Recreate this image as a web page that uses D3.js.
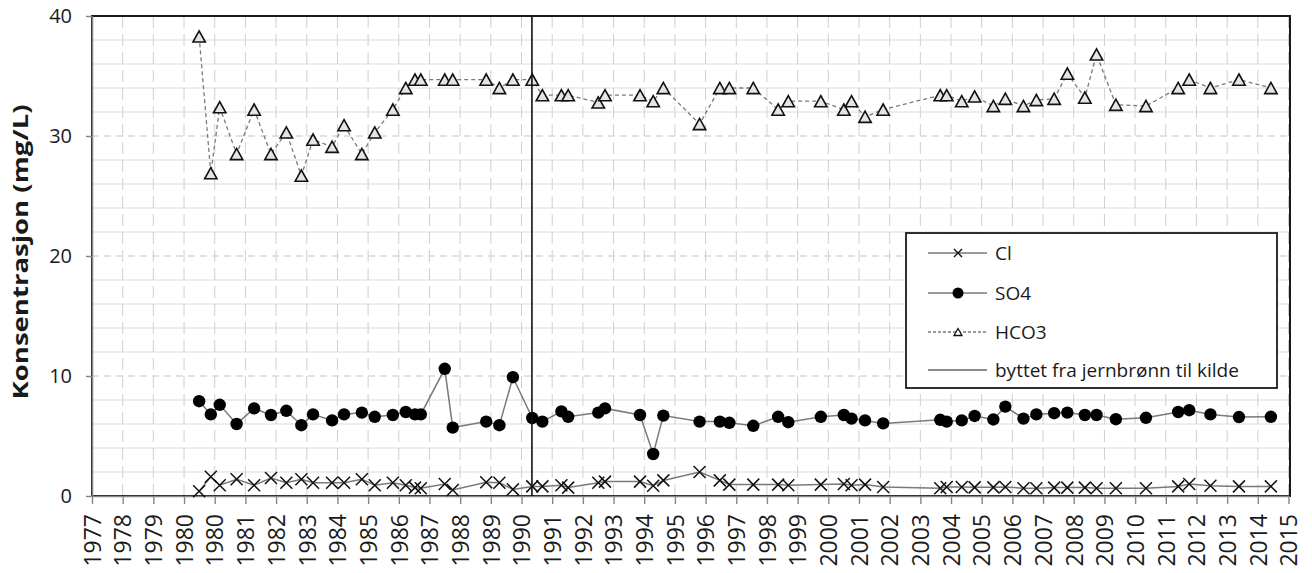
<!DOCTYPE html>
<html lang="no">
<head>
  <meta charset="UTF-8">
  <title>Konsentrasjon Cl, SO4, HCO3</title>
  <script src="https://d3js.org/d3.v7.min.js"></script>
  <style>
    body { margin: 0; background: #fff; font-family: "Open Sans", sans-serif; }
    svg { display: block; }
    .tick text { fill: #1a1a1a; }
  </style>
</head>
<body>
  <svg id="chart" width="1312" height="573"></svg>

  <script>
    // axis labels as they stand on the chart (365-day steps, so 1980 shows twice)
    const yearLabels = ["1977", "1978", "1979", "1980", "1980", "1981", "1982", "1983", "1984", "1985",
      "1986", "1987", "1988", "1989", "1990", "1991", "1992", "1993", "1994", "1995",
      "1996", "1997", "1998", "1999", "2000", "2001", "2002", "2003", "2004", "2005",
      "2006", "2007", "2008", "2009", "2010", "2011", "2012", "2013", "2014", "2015"];

    // sampling dates, decimal years
    const sampleDates = [1980.49, 1980.87, 1981.16, 1981.71, 1982.28, 1982.83, 1983.33, 1983.82, 1984.20, 1984.82,
      1985.21, 1985.79, 1986.21, 1986.80, 1987.22, 1987.52, 1987.71, 1988.49, 1988.75, 1989.84,
      1990.27, 1990.71, 1991.34, 1991.67, 1992.29, 1992.51, 1993.49, 1993.71, 1994.85, 1995.28,
      1995.61, 1996.79, 1997.45, 1997.76, 1998.54, 1999.35, 1999.68, 2000.74, 2001.49, 2001.74,
      2002.18, 2002.77, 2004.63, 2004.84, 2005.33, 2005.75, 2006.36, 2006.75, 2007.34, 2007.76,
      2008.34, 2008.77, 2009.34, 2009.72, 2010.35, 2011.33, 2012.38, 2012.74, 2013.43, 2014.36,
      2015.40];

    const cl = [0.4, 1.6, 0.9, 1.4, 0.9, 1.5, 1.1, 1.4, 1.1, 1.1,
      1.1, 1.4, 0.9, 1.1, 0.9, 0.7, 0.65, 1.0, 0.5, 1.15,
      1.1, 0.55, 0.8, 0.8, 0.9, 0.7, 1.1, 1.2, 1.2, 0.85,
      1.3, 2.0, 1.3, 0.95, 0.95, 0.95, 0.9, 0.95, 1.0, 0.9,
      0.95, 0.75, 0.65, 0.75, 0.75, 0.72, 0.72, 0.75, 0.65, 0.65,
      0.7, 0.7, 0.7, 0.65, 0.65, 0.65, 0.8, 1.0, 0.85, 0.8,
      0.8];

    const so4 = [7.9, 6.8, 7.6, 6.0, 7.3, 6.75, 7.1, 5.9, 6.8, 6.3,
      6.8, 6.95, 6.6, 6.75, 7.0, 6.8, 6.8, 10.6, 5.7, 6.2,
      5.9, 9.9, 6.5, 6.2, 7.05, 6.6, 6.95, 7.3, 6.75, 3.5,
      6.7, 6.2, 6.2, 6.1, 5.85, 6.6, 6.15, 6.6, 6.75, 6.45,
      6.3, 6.05, 6.35, 6.2, 6.3, 6.67, 6.38, 7.45, 6.45, 6.8,
      6.9, 6.95, 6.75, 6.75, 6.4, 6.52, 7.0, 7.15, 6.8, 6.58,
      6.6];

    const hco3 = [38.3, 26.9, 32.4, 28.5, 32.2, 28.5, 30.3, 26.7, 29.7, 29.1,
      30.9, 28.5, 30.3, 32.2, 34.0, 34.7, 34.7, 34.7, 34.7, 34.7,
      34.0, 34.7, 34.7, 33.4, 33.4, 33.4, 32.8, 33.4, 33.4, 32.9,
      34.0, 31.0, 34.0, 34.0, 34.0, 32.2, 32.9, 32.9, 32.2, 32.9,
      31.6, 32.2, 33.4, 33.4, 32.9, 33.3, 32.5, 33.1, 32.5, 33.0,
      33.1, 35.2, 33.2, 36.8, 32.6, 32.5, 34.0, 34.7, 34.0, 34.7,
      34.0];

    // date of the switch from iron well to spring
    const changeDate = [1991.33];

    const yTicks = [0, 10, 20, 30, 40];
    const legendLabels = ["Cl", "SO4", "HCO3", "byttet fra jernbrønn til kilde"];

    const svg = d3.select("#chart");
    const plotLeft = 92, plotRight = 1290, plotTop = 16, plotBottom = 496;

    const tickVals = yearLabels.map((d, i) => 1977 + i * 365 / 365.25);

    const x = d3.scaleLinear()
      .domain([tickVals[0], tickVals[tickVals.length - 1]])
      .range([plotLeft, 1288.5]);
    const y = d3.scaleLinear().domain([0, 40]).range([plotBottom, plotTop]);

    // grid
    const grid = svg.append("g");
    grid.selectAll(".hminor")
      .data(d3.range(2, 40, 2).filter(v => v % 10 !== 0))
      .enter().append("line")
      .attr("x1", plotLeft).attr("x2", plotRight)
      .attr("y1", d => y(d)).attr("y2", d => y(d))
      .attr("stroke", "#dcdcdc").attr("stroke-width", 1);
    grid.selectAll(".hmajor")
      .data([10, 20, 30])
      .enter().append("line")
      .attr("x1", plotLeft).attr("x2", plotRight)
      .attr("y1", d => y(d)).attr("y2", d => y(d))
      .attr("stroke", "#c4c4c4").attr("stroke-width", 1.2)
      .attr("stroke-dasharray", "7,5");
    grid.selectAll(".vgrid")
      .data(tickVals.slice(1))
      .enter().append("line")
      .attr("x1", d => x(d)).attr("x2", d => x(d))
      .attr("y1", plotTop).attr("y2", plotBottom)
      .attr("stroke", "#cfcfcf").attr("stroke-width", 1)
      .attr("stroke-dasharray", "12,6");

    // plot area border (dark top / right)
    svg.append("rect")
      .attr("x", plotLeft).attr("y", plotTop)
      .attr("width", plotRight - plotLeft).attr("height", plotBottom - plotTop)
      .attr("fill", "none").attr("stroke", "#1a1a1a").attr("stroke-width", 2);

    // axes
    const xAxis = svg.append("g")
      .attr("transform", `translate(0,${plotBottom})`)
      .call(d3.axisBottom(x).tickValues(tickVals)
        .tickFormat((d, i) => yearLabels[i]).tickSize(8).tickSizeOuter(0));
    xAxis.select(".domain").attr("stroke", "#868686").attr("stroke-width", 1.6);
    xAxis.selectAll(".tick line").attr("stroke", "#868686").attr("stroke-width", 1.4);
    xAxis.selectAll(".tick text")
      .attr("transform", "rotate(-90)")
      .attr("text-anchor", "end")
      .attr("x", -18).attr("y", 0).attr("dy", "0.36em")
      .style("font-family", "'Open Sans', sans-serif")
      .style("font-size", "23px");

    const yAxis = svg.append("g")
      .attr("transform", `translate(${plotLeft},0)`)
      .call(d3.axisLeft(y).tickValues(yTicks).tickSize(6).tickSizeOuter(0).tickPadding(14));
    yAxis.select(".domain").attr("stroke", "#868686").attr("stroke-width", 1.6);
    yAxis.selectAll(".tick line").attr("stroke", "#868686").attr("stroke-width", 1.4);
    yAxis.selectAll(".tick text")
      .style("font-family", "'Open Sans', sans-serif")
      .style("font-size", "20px");

    // y title
    svg.append("text")
      .attr("transform", `translate(28,252) rotate(-90)`)
      .attr("text-anchor", "middle")
      .attr("textLength", 295)
      .attr("lengthAdjust", "spacingAndGlyphs")
      .style("font-family", "'Open Sans', sans-serif")
      .style("font-size", "21px")
      .style("font-weight", "bold")
      .style("fill", "#1a1a1a")
      .text("Konsentrasjon (mg/L)");

    // markers
    const crossPath = s => `M${-s},${-s}L${s},${s}M${-s},${s}L${s},${-s}`;
    const triPath = (w, h) => `M0,${-h}L${w},${h}L${-w},${h}Z`;

    const rows = sampleDates.map((d, i) => ({ date: d, cl: cl[i], so4: so4[i], hco3: hco3[i] }));
    const line = key => d3.line().x(d => x(d.date)).y(d => y(d[key]));

    // Cl
    svg.append("path").datum(rows)
      .attr("d", line("cl"))
      .attr("fill", "none").attr("stroke", "#7a7a7a").attr("stroke-width", 1.5);
    svg.selectAll(".cl").data(rows).enter().append("path")
      .attr("transform", d => `translate(${x(d.date)},${y(d.cl)})`)
      .attr("d", crossPath(6))
      .attr("stroke", "#111").attr("stroke-width", 1.5).attr("fill", "none");

    // SO4
    svg.append("path").datum(rows)
      .attr("d", line("so4"))
      .attr("fill", "none").attr("stroke", "#7a7a7a").attr("stroke-width", 1.5);
    svg.selectAll(".so4").data(rows).enter().append("circle")
      .attr("cx", d => x(d.date)).attr("cy", d => y(d.so4))
      .attr("r", 6.2).attr("fill", "#000");

    // HCO3
    svg.append("path").datum(rows)
      .attr("d", line("hco3"))
      .attr("fill", "none").attr("stroke", "#7a7a7a").attr("stroke-width", 1.3)
      .attr("stroke-dasharray", "4,3");
    svg.selectAll(".hco3").data(rows).enter().append("path")
      .attr("transform", d => `translate(${x(d.date)},${y(d.hco3)})`)
      .attr("d", triPath(6.2, 5.6))
      .attr("stroke", "#111").attr("stroke-width", 1.6).attr("fill", "#e4e4e4");

    // switch line
    svg.selectAll(".change").data(changeDate).enter().append("line")
      .attr("x1", d => x(d)).attr("x2", d => x(d))
      .attr("y1", y(40)).attr("y2", y(0))
      .attr("stroke", "#111").attr("stroke-width", 1.6);

    // legend
    const lg = svg.append("g").attr("transform", "translate(906,233)");
    lg.append("rect")
      .attr("width", 371).attr("height", 155)
      .attr("fill", "#fff").attr("stroke", "#1a1a1a").attr("stroke-width", 1.8);
    const rowY = [20, 60, 99, 137];
    legendLabels.forEach((lab, i) => {
      const g = lg.append("g").attr("transform", `translate(0,${rowY[i]})`);
      g.append("line")
        .attr("x1", 22).attr("x2", 81)
        .attr("stroke", i === 3 ? "#666" : "#7a7a7a")
        .attr("stroke-width", 1.4)
        .attr("stroke-dasharray", i === 2 ? "3,2" : null);
      if (i === 0) {
        g.append("path").attr("transform", "translate(52,0)")
          .attr("d", crossPath(4)).attr("stroke", "#111").attr("stroke-width", 1.4);
      } else if (i === 1) {
        g.append("circle").attr("cx", 52).attr("r", 5.5).attr("fill", "#000");
      } else if (i === 2) {
        g.append("path").attr("transform", "translate(52,0)")
          .attr("d", triPath(4, 3.5)).attr("stroke", "#111").attr("stroke-width", 1.3).attr("fill", "#fff");
      }
      g.append("text")
        .attr("x", 89).attr("dy", "0.36em")
        .style("font-family", "'Open Sans', sans-serif")
        .style("font-size", "19px")
        .style("fill", "#1a1a1a")
        .text(lab);
    });
  </script>
</body>
</html>
